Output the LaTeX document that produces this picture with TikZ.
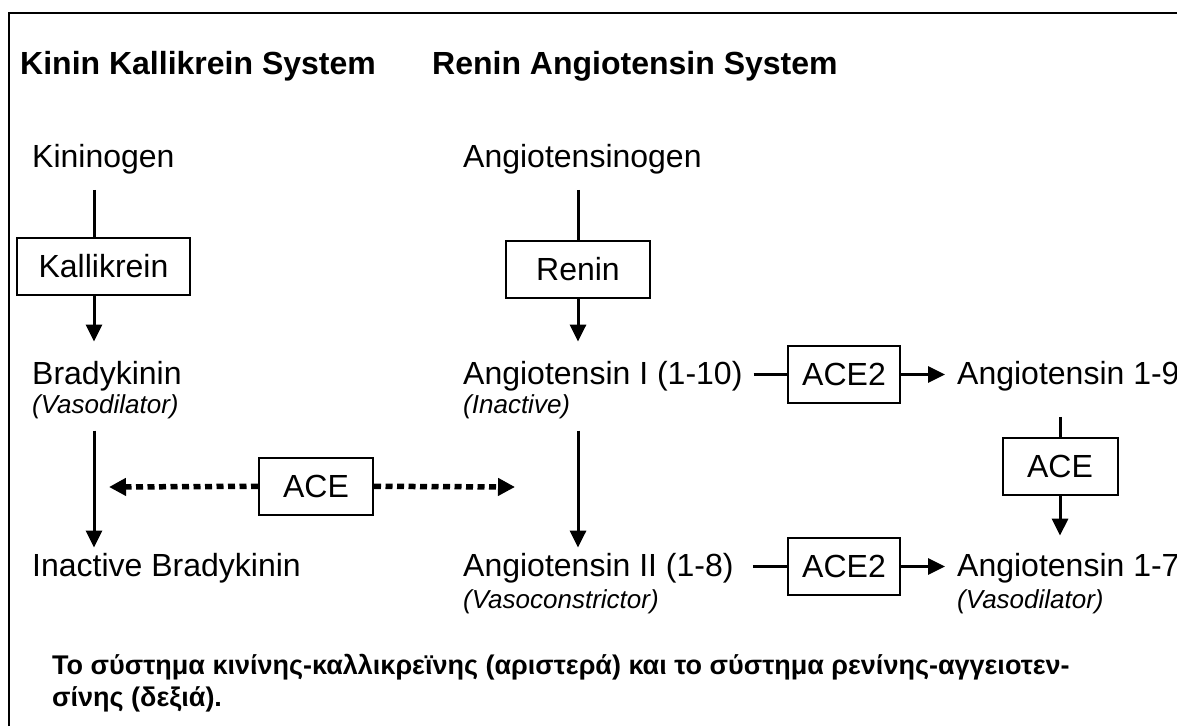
\documentclass[tikz,border=0pt]{standalone}
\usepackage{fontspec}
\setmainfont{Liberation Sans}
\usetikzlibrary{arrows.meta}
\tikzset{sysname/.style={anchor=base west,inner sep=0pt,font=\fontsize{32}{38}\selectfont\bfseries},
	 chem/.style={anchor=base west,inner sep=0pt,font=\fontsize{32}{38}\selectfont},
	 chemnote/.style={anchor=base west,inner sep=0pt,font=\fontsize{26}{31}\selectfont\itshape},
	 enzyme/.style={draw,line width=2pt,inner sep=0pt,minimum height=57pt,font=\fontsize{32}{38}\selectfont},
	 link/.style={line width=3pt},
	 react/.style={line width=3pt,-{Triangle[length=17pt,width=16pt]}},
	 inhib/.style={line width=5.5pt,dash pattern=on 7pt off 4.5pt,-{Triangle[length=17pt,width=17pt]}},
	 caption/.style={anchor=north west,inner sep=0pt,align=left,font=\fontsize{27}{32}\selectfont\bfseries}
	 }

\begin{document}
\begin{tikzpicture}[x=1pt,y=-1pt]% kinin kallikrein and renin angiotensin
        \useasboundingbox (0,0) rectangle (1177,726);
        \draw[line width=2.5pt] (9,726) |- (1177,13);
        \node[sysname] (kks) at (20,74) {Kinin Kallikrein System};
        \node[sysname] (ras) at (432,74) {Renin Angiotensin System};
        % left column
        \node[chem] (kgen) at (32,167) {Kininogen};
        \node[enzyme,minimum width=173pt] (kal) at (103.5,266) {Kallikrein};
        \node[chem] (brady) at (32,384) {Bradykinin};
        \node[chemnote] (vasoa) at (32,413) {(Vasodilator)};
        \node[chem] (inbrady) at (32,576) {Inactive Bradykinin};
        \node[enzyme,minimum width=114pt] (acel) at (316,486) {ACE};
        % middle column
        \node[chem] (agen) at (463,167) {Angiotensinogen};
        \node[enzyme,minimum width=144pt] (ren) at (578,269) {Renin};
        \node[chem] (angi) at (463,384) {Angiotensin I (1-10)};
        \node[chemnote] (inact) at (463,413) {(Inactive)};
        \node[chem] (angii) at (463,576) {Angiotensin II (1-8)};
        \node[chemnote] (vcon) at (463,608) {(Vasoconstrictor)};
        % right column
        \node[enzyme,minimum width=112pt] (acetwoa) at (844,374.5) {ACE2};
        \node[enzyme,minimum width=112pt] (acetwob) at (844,566.5) {ACE2};
        \node[chem] (angnine) at (957,384) {Angiotensin 1-9};
        \node[enzyme,minimum width=115pt] (acer) at (1060,466) {ACE};
        \node[chem] (angseven) at (957,576) {Angiotensin 1-7};
        \node[chemnote] (vasob) at (957,608) {(Vasodilator)};
        \node[caption] (capt) at (52,654) {Το σύστημα κινίνης-καλλικρεϊνης (αριστερά) και το σύστημα ρενίνης-αγγειοτεν-\\σίνης (δεξιά).};
        \coordinate (kaxis) at (94,0);
        \coordinate (blockl) at (109,487);
        \coordinate (blockr) at (515,487);
        \draw[link,shorten <=16pt] (kaxis |- kgen.south) -- (kaxis |- kal.north);
        \draw[react,shorten >=19pt] (kaxis |- kal.south) -- (kaxis |- brady.north);
        \draw[react,shorten <=12pt,shorten >=5pt] (kaxis |- vasoa.south) -- (kaxis |- inbrady.north);
        \draw[link,shorten <=16pt] (ren |- agen.south) -- (ren);
        \draw[react,shorten >=19pt] (ren) -- (ren |- angi.north);
        \draw[react,shorten <=12pt,shorten >=5pt] (ren |- inact.south) -- (ren |- angii.north);
        \draw[link,shorten <=11pt] (angi.east |- acetwoa) -- (acetwoa);
        \draw[react,shorten >=12pt] (acetwoa) -- (angnine.west |- acetwoa);
        \draw[link,shorten <=19pt] (angii.east |- acetwob) -- (acetwob);
        \draw[react,shorten >=12pt] (acetwob) -- (angseven.west |- acetwob);
        \draw[link,shorten <=26pt] (acer |- angnine.south) -- (acer);
        \draw[react,shorten >=17pt] (acer) -- (acer |- angseven.north);
        \draw[inhib] (acel) -- (blockl);
        \draw[inhib] (acel) -- (blockr);
\end{tikzpicture}
\end{document}
